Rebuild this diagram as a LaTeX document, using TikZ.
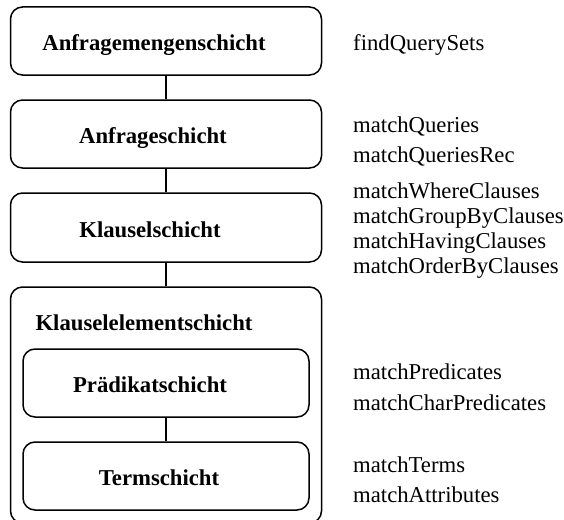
\documentclass[tikz,border=0pt]{standalone}
\usepackage{fontspec}
\setmainfont{Liberation Serif}
\begin{document}
\begin{tikzpicture}[x=1pt,y=-1pt,
  layerbox/.style={draw=black, line width=1.5pt, rounded corners=12pt, inner sep=0pt},
  layername/.style={anchor=base, inner sep=0pt, font=\fontsize{22.7}{27}\selectfont\bfseries},
  funcname/.style={anchor=base west, inner sep=0pt, font=\fontsize{22.7}{27}\selectfont},
  link/.style={line width=2pt}]
\useasboundingbox (0,0) rectangle (564,519);
\begin{scope}
\clip (0,0) rectangle (564,519);
% layer boxes
\node[layerbox, minimum width=311pt, minimum height=68pt] (qs) at (166,41) {};
\node[layerbox, minimum width=311pt, minimum height=68pt] (q) at (166,134) {};
\node[layerbox, minimum width=311pt, minimum height=69pt] (cl) at (166,227.5) {};
\node[layerbox, minimum width=311pt, minimum height=236pt] (ce) at (166,405) {};
\node[layerbox, minimum width=286pt, minimum height=68pt] (pr) at (166,383) {};
\node[layerbox, minimum width=286pt, minimum height=68pt] (te) at (166,476) {};
\end{scope}
% layer names
\node[layername] (tqs) at (154,50) {Anfragemengenschicht};
\node[layername] (tq) at (153,143) {Anfrageschicht};
\node[layername] (tcl) at (150,237) {Klauselschicht};
\node[layername] (tce) at (144,330) {Klauselelementschicht};
\node[layername] (tpr) at (150,392) {Prädikatschicht};
\node[layername] (tte) at (159,485) {Termschicht};
% connectors
\draw[link] (qs.south) -- (q.north);
\draw[link] (q.south) -- (cl.north);
\draw[link] (cl.south) -- (ce.north);
\draw[link] (pr.south) -- (te.north);
% functions per layer
\node[funcname] (f1) at (353,51) {findQuerySets};
\node[funcname] (f2) at (353,132) {matchQueries};
\node[funcname] (f3) at (353,162) {matchQueriesRec};
\node[funcname] (f4) at (353,198) {matchWhereClauses};
\node[funcname] (f5) at (353,223) {matchGroupByClauses};
\node[funcname] (f6) at (353,248) {matchHavingClauses};
\node[funcname] (f7) at (353,273) {matchOrderByClauses};
\node[funcname] (f8) at (353,379) {matchPredicates};
\node[funcname] (f9) at (353,410) {matchCharPredicates};
\node[funcname] (f10) at (353,472) {matchTerms};
\node[funcname] (f11) at (353,502) {matchAttributes};
\end{tikzpicture}
\end{document}
